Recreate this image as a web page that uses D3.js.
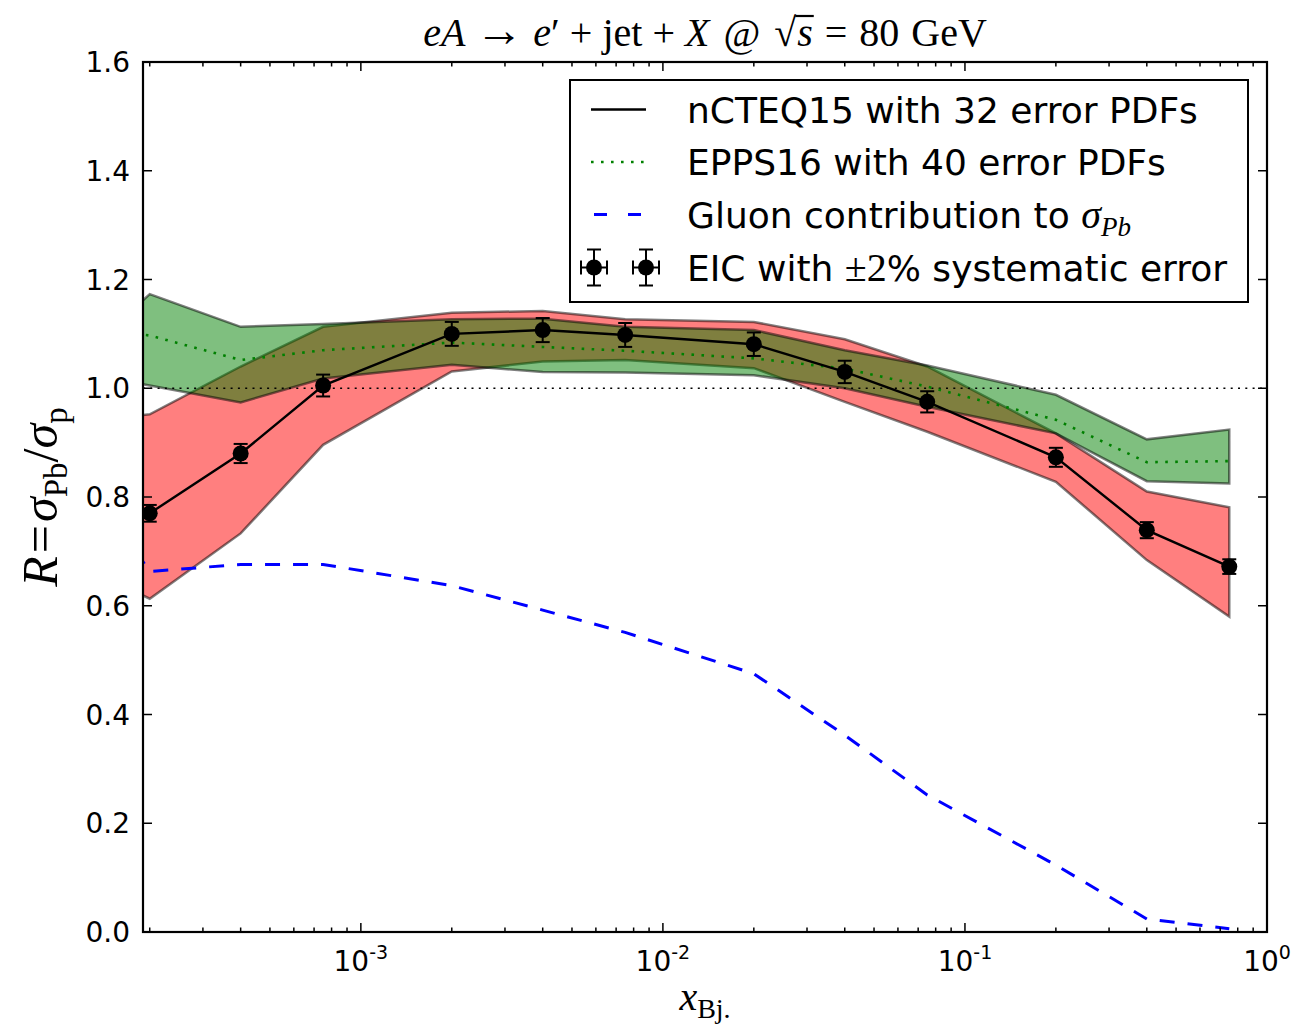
<!DOCTYPE html>
<html>
<head>
<meta charset="utf-8">
<script src="https://cdn.jsdelivr.net/npm/d3@7"></script>
<style>
  body { margin: 0; background: #fff; }
  svg { display: block; }
</style>
</head>
<body>
<script>
// Theory grid in x_Bj (first node lies just left of the plotted range)
const xGrid = [1.8e-4, 2e-4, 4e-4, 7.5e-4, 2e-3, 4e-3, 7.5e-3, 0.02, 0.04, 0.075, 0.2, 0.4, 0.75];
// nCTEQ15 error band
const ncteqUpper = [0.950, 0.952, 1.040, 1.113, 1.139, 1.142, 1.127, 1.122, 1.090, 1.040, 0.917, 0.810, 0.781];
const ncteqLower = [0.625, 0.613, 0.733, 0.896, 1.031, 1.049, 1.052, 1.037, 0.975, 0.920, 0.828, 0.684, 0.580];
// EPPS16 central value and error band
const eppsCentral = [1.100, 1.097, 1.052, 1.070, 1.084, 1.076, 1.069, 1.055, 1.036, 1.003, 0.942, 0.864, 0.866];
const eppsUpper = [1.150, 1.173, 1.113, 1.118, 1.127, 1.128, 1.113, 1.107, 1.070, 1.042, 0.988, 0.906, 0.924];
const eppsLower = [1.010, 1.005, 0.974, 1.018, 1.043, 1.030, 1.029, 1.024, 1.000, 0.966, 0.917, 0.829, 0.825];
// Gluon-initiated fraction of the Pb cross section
const gluonFrac = [0.700, 0.663, 0.676, 0.676, 0.637, 0.592, 0.551, 0.475, 0.362, 0.252, 0.123, 0.024, 0.006];

// EIC pseudo-data bins (central values = nCTEQ15 prediction)
const xEIC = [2e-4, 4e-4, 7.5e-4, 2e-3, 4e-3, 7.5e-3, 0.02, 0.04, 0.075, 0.2, 0.4, 0.75];
const rEIC = [0.770, 0.880, 1.005, 1.100, 1.107, 1.098, 1.081, 1.030, 0.975, 0.873, 0.739, 0.672];
const sysErr = 0.02;

// Axis ticks
const yTicks = [0.0, 0.2, 0.4, 0.6, 0.8, 1.0, 1.2, 1.4, 1.6];
const xMajor = [1e-3, 1e-2, 1e-1, 1];
const xMajorExp = ["-3", "-2", "-1", "0"];

// Legend entries
const legendLabels = [
  [{t: "nCTEQ15 with 32 error PDFs"}],
  [{t: "EPPS16 with 40 error PDFs"}],
  [{t: "Gluon contribution to "}, {t: "σ", math: true, it: true, size: 40}, {t: "Pb", math: true, it: true, sub: true}],
  [{t: "EIC with "}, {t: "±2", math: true, size: 40}, {t: "% systematic error"}]
];

const W = 1297, H = 1025;
const M = {l: 143, r: 1267, t: 62, b: 932};
const SANS = "'DejaVu Sans', sans-serif";
const SERIF = "'Liberation Serif', 'DejaVu Serif', serif";

const svg = d3.select("body").append("svg")
  .attr("width", W).attr("height", H)
  .style("background", "#fff");

const x = d3.scaleLog().domain([1.9e-4, 1]).range([M.l, M.r]);
const y = d3.scaleLinear().domain([0, 1.6]).range([M.b, M.t]);

svg.append("defs").append("clipPath").attr("id", "plot-clip")
  .append("rect").attr("x", M.l).attr("y", M.t)
  .attr("width", M.r - M.l).attr("height", M.b - M.t);

const plot = svg.append("g").attr("clip-path", "url(#plot-clip)");

// Error bands: translucent fill with translucent black outline
function band(lo, hi, color) {
  const area = d3.area()
    .x((d, i) => x(xGrid[i]))
    .y0((d, i) => y(lo[i]))
    .y1((d, i) => y(hi[i]));
  plot.append("path")
    .attr("d", area(xGrid))
    .attr("fill", color).attr("fill-opacity", 0.5)
    .attr("stroke", "#000").attr("stroke-opacity", 0.5)
    .attr("stroke-width", 2.5).attr("stroke-linejoin", "miter");
}
band(ncteqLower, ncteqUpper, "#ff0000");
band(eppsLower, eppsUpper, "#008000");

// Reference line at R = 1
plot.append("line")
  .attr("x1", M.l).attr("x2", M.r).attr("y1", y(1)).attr("y2", y(1))
  .attr("stroke", "#000").attr("stroke-width", 1.5).attr("stroke-dasharray", "2,5.3");

const gridLine = vals => d3.line().x((d, i) => x(xGrid[i])).y((d, i) => y(vals[i]))(xGrid);

// EPPS16 central
plot.append("path").attr("d", gridLine(eppsCentral))
  .attr("fill", "none").attr("stroke", "#008000")
  .attr("stroke-width", 2.6).attr("stroke-dasharray", "2.6,7.4");

// Gluon contribution
plot.append("path").attr("d", gridLine(gluonFrac))
  .attr("fill", "none").attr("stroke", "#0000ff")
  .attr("stroke-width", 3).attr("stroke-dasharray", "15,13");

// nCTEQ15 central through EIC points
const eic = xEIC.map((v, i) => ({x: v, r: rEIC[i]}));
plot.append("path")
  .attr("d", d3.line().x(d => x(d.x)).y(d => y(d.r))(eic))
  .attr("fill", "none").attr("stroke", "#000").attr("stroke-width", 2.4);

// EIC error bars and markers
const cap = 7;
const eg = plot.append("g").attr("stroke", "#000").attr("stroke-width", 2);
eic.forEach(d => {
  const cx = x(d.x), y0 = y(d.r * (1 - sysErr)), y1 = y(d.r * (1 + sysErr));
  eg.append("line").attr("x1", cx).attr("x2", cx).attr("y1", y0).attr("y2", y1);
  eg.append("line").attr("x1", cx - cap).attr("x2", cx + cap).attr("y1", y0).attr("y2", y0);
  eg.append("line").attr("x1", cx - cap).attr("x2", cx + cap).attr("y1", y1).attr("y2", y1);
});
plot.append("g").selectAll("circle").data(eic).join("circle")
  .attr("cx", d => x(d.x)).attr("cy", d => y(d.r)).attr("r", 8).attr("fill", "#000");

// Axes frame and inward ticks
const axes = svg.append("g");
axes.append("rect").attr("x", M.l).attr("y", M.t)
  .attr("width", M.r - M.l).attr("height", M.b - M.t)
  .attr("fill", "none").attr("stroke", "#000").attr("stroke-width", 2.2);

const tickG = axes.append("g").attr("stroke", "#000").attr("stroke-width", 1.5);
const MAJ = 9, MIN = 4.5;
yTicks.forEach(v => {
  const yy = y(v);
  tickG.append("line").attr("x1", M.l).attr("x2", M.l + MAJ).attr("y1", yy).attr("y2", yy);
  tickG.append("line").attr("x1", M.r).attr("x2", M.r - MAJ).attr("y1", yy).attr("y2", yy);
});
const xMinor = [];
[-4, -3, -2, -1].forEach(e => {
  for (let k = 2; k <= 9; k++) {
    const v = k * Math.pow(10, e);
    if (v >= x.domain()[0] && v <= 1) xMinor.push(v);
  }
});
xMajor.forEach(v => {
  const xx = x(v);
  tickG.append("line").attr("x1", xx).attr("x2", xx).attr("y1", M.b).attr("y2", M.b - MAJ);
  tickG.append("line").attr("x1", xx).attr("x2", xx).attr("y1", M.t).attr("y2", M.t + MAJ);
});
xMinor.forEach(v => {
  const xx = x(v);
  tickG.append("line").attr("x1", xx).attr("x2", xx).attr("y1", M.b).attr("y2", M.b - MIN);
  tickG.append("line").attr("x1", xx).attr("x2", xx).attr("y1", M.t).attr("y2", M.t + MIN);
});

// Tick labels
const TICK_FS = 28;
axes.append("g").selectAll("text").data(yTicks).join("text")
  .attr("x", M.l - 13).attr("y", d => y(d))
  .attr("dy", "0.36em")
  .attr("text-anchor", "end")
  .style("font-family", SANS).style("font-size", TICK_FS + "px")
  .text(d => d.toFixed(1));

xMajor.forEach((v, i) => {
  const t = axes.append("text")
    .attr("x", x(v)).attr("y", 971)
    .attr("text-anchor", "middle")
    .style("font-family", SANS).style("font-size", TICK_FS + "px");
  t.append("tspan").text("10");
  t.append("tspan").attr("dy", -12).style("font-size", "19px").text(xMajorExp[i]);
});

// Title, with math-style spacing around operators
const title = svg.append("text")
  .attr("x", (M.l + M.r) / 2).attr("y", 46)
  .attr("text-anchor", "middle")
  .style("font-family", SERIF).style("font-size", "40px");
[
  {t: "eA", it: true}, {t: "→", dx: 10, size: 48}, {t: "e", it: true, dx: 10}, {t: "′"},
  {t: "+", dx: 10}, {t: "jet", dx: 10}, {t: "+", dx: 10},
  {t: "X", it: true, dx: 10}, {t: "@", dx: 14}, {t: "√", id: "root", dx: 14},
  {t: "s", it: true, id: "rad", dx: 1}, {t: "=", dx: 12}, {t: "80", dx: 12}, {t: "GeV", dx: 12}
].forEach(p => {
  const s = title.append("tspan").text(p.t);
  if (p.dx) s.attr("dx", p.dx);
  if (p.size) s.style("font-size", p.size + "px");
  if (p.it) s.style("font-style", "italic");
  if (p.id) s.attr("id", p.id);
});
// vinculum over the radicand
{
  const rad = svg.select("#rad").node().getBBox();
  const root = svg.select("#root").node().getBBox();
  svg.append("line")
    .attr("x1", root.x + root.width - 1).attr("x2", rad.x + rad.width + 1)
    .attr("y1", root.y + 6).attr("y2", root.y + 6)
    .attr("stroke", "#000").attr("stroke-width", 2.2);
}

// Axis labels
const xl = svg.append("text")
  .attr("x", (M.l + M.r) / 2).attr("y", 1010)
  .attr("text-anchor", "middle")
  .style("font-family", SERIF).style("font-size", "40px");
xl.append("tspan").style("font-style", "italic").text("x");
xl.append("tspan").attr("dy", 8).style("font-size", "28px").text("Bj.");

const yl = svg.append("text")
  .attr("transform", `translate(57,${(M.t + M.b) / 2}) rotate(-90)`)
  .attr("text-anchor", "middle")
  .style("font-family", SERIF).style("font-size", "50px");
yl.append("tspan").style("font-style", "italic").text("R");
yl.append("tspan").attr("dx", 3).text("=");
yl.append("tspan").attr("dx", 3).style("font-style", "italic").text("σ");
yl.append("tspan").attr("dy", 10).style("font-size", "33px").text("Pb");
yl.append("tspan").attr("dy", -10).text("/");
yl.append("tspan").style("font-style", "italic").text("σ");
yl.append("tspan").attr("dy", 10).style("font-size", "33px").text("p");

// Legend
const L = {x: 570, y: 80, w: 678, h: 222};
const leg = svg.append("g");
leg.append("rect").attr("x", L.x).attr("y", L.y).attr("width", L.w).attr("height", L.h)
  .attr("fill", "#fff").attr("stroke", "#000").attr("stroke-width", 2);
const rowY = [109.5, 162, 214.5, 267.5];
const hx0 = 591, hx1 = 646;
leg.append("line").attr("x1", hx0).attr("x2", hx1).attr("y1", rowY[0]).attr("y2", rowY[0])
  .attr("stroke", "#000").attr("stroke-width", 2.4);
leg.append("line").attr("x1", hx0).attr("x2", hx1).attr("y1", rowY[1]).attr("y2", rowY[1])
  .attr("stroke", "#008000").attr("stroke-width", 2.6).attr("stroke-dasharray", "2.6,7.4");
leg.append("line").attr("x1", hx0 + 3).attr("x2", hx1).attr("y1", rowY[2]).attr("y2", rowY[2])
  .attr("stroke", "#0000ff").attr("stroke-width", 3).attr("stroke-dasharray", "13,21");
[hx0 + 3, hx1].forEach(cx => {
  const cy = rowY[3];
  const g = leg.append("g").attr("stroke", "#000").attr("stroke-width", 2);
  g.append("line").attr("x1", cx).attr("x2", cx).attr("y1", cy - 18).attr("y2", cy + 18);
  g.append("line").attr("x1", cx - cap).attr("x2", cx + cap).attr("y1", cy - 18).attr("y2", cy - 18);
  g.append("line").attr("x1", cx - cap).attr("x2", cx + cap).attr("y1", cy + 18).attr("y2", cy + 18);
  g.append("line").attr("x1", cx - 13).attr("x2", cx + 13).attr("y1", cy).attr("y2", cy);
  g.append("line").attr("x1", cx - 13).attr("x2", cx - 13).attr("y1", cy - cap).attr("y2", cy + cap);
  g.append("line").attr("x1", cx + 13).attr("x2", cx + 13).attr("y1", cy - cap).attr("y2", cy + cap);
  leg.append("circle").attr("cx", cx).attr("cy", cy).attr("r", 8).attr("fill", "#000");
});
legendLabels.forEach((parts, i) => {
  const t = leg.append("text").attr("x", 687).attr("y", rowY[i] + 13)
    .style("font-family", SANS).style("font-size", "36px");
  parts.forEach(p => {
    const s = t.append("tspan").text(p.t);
    if (p.math) s.style("font-family", SERIF);
    if (p.size) s.style("font-size", p.size + "px");
    if (p.it) s.style("font-style", "italic");
    if (p.sub) s.attr("dy", 8).style("font-size", "27px");
  });
});
</script>
</body>
</html>
